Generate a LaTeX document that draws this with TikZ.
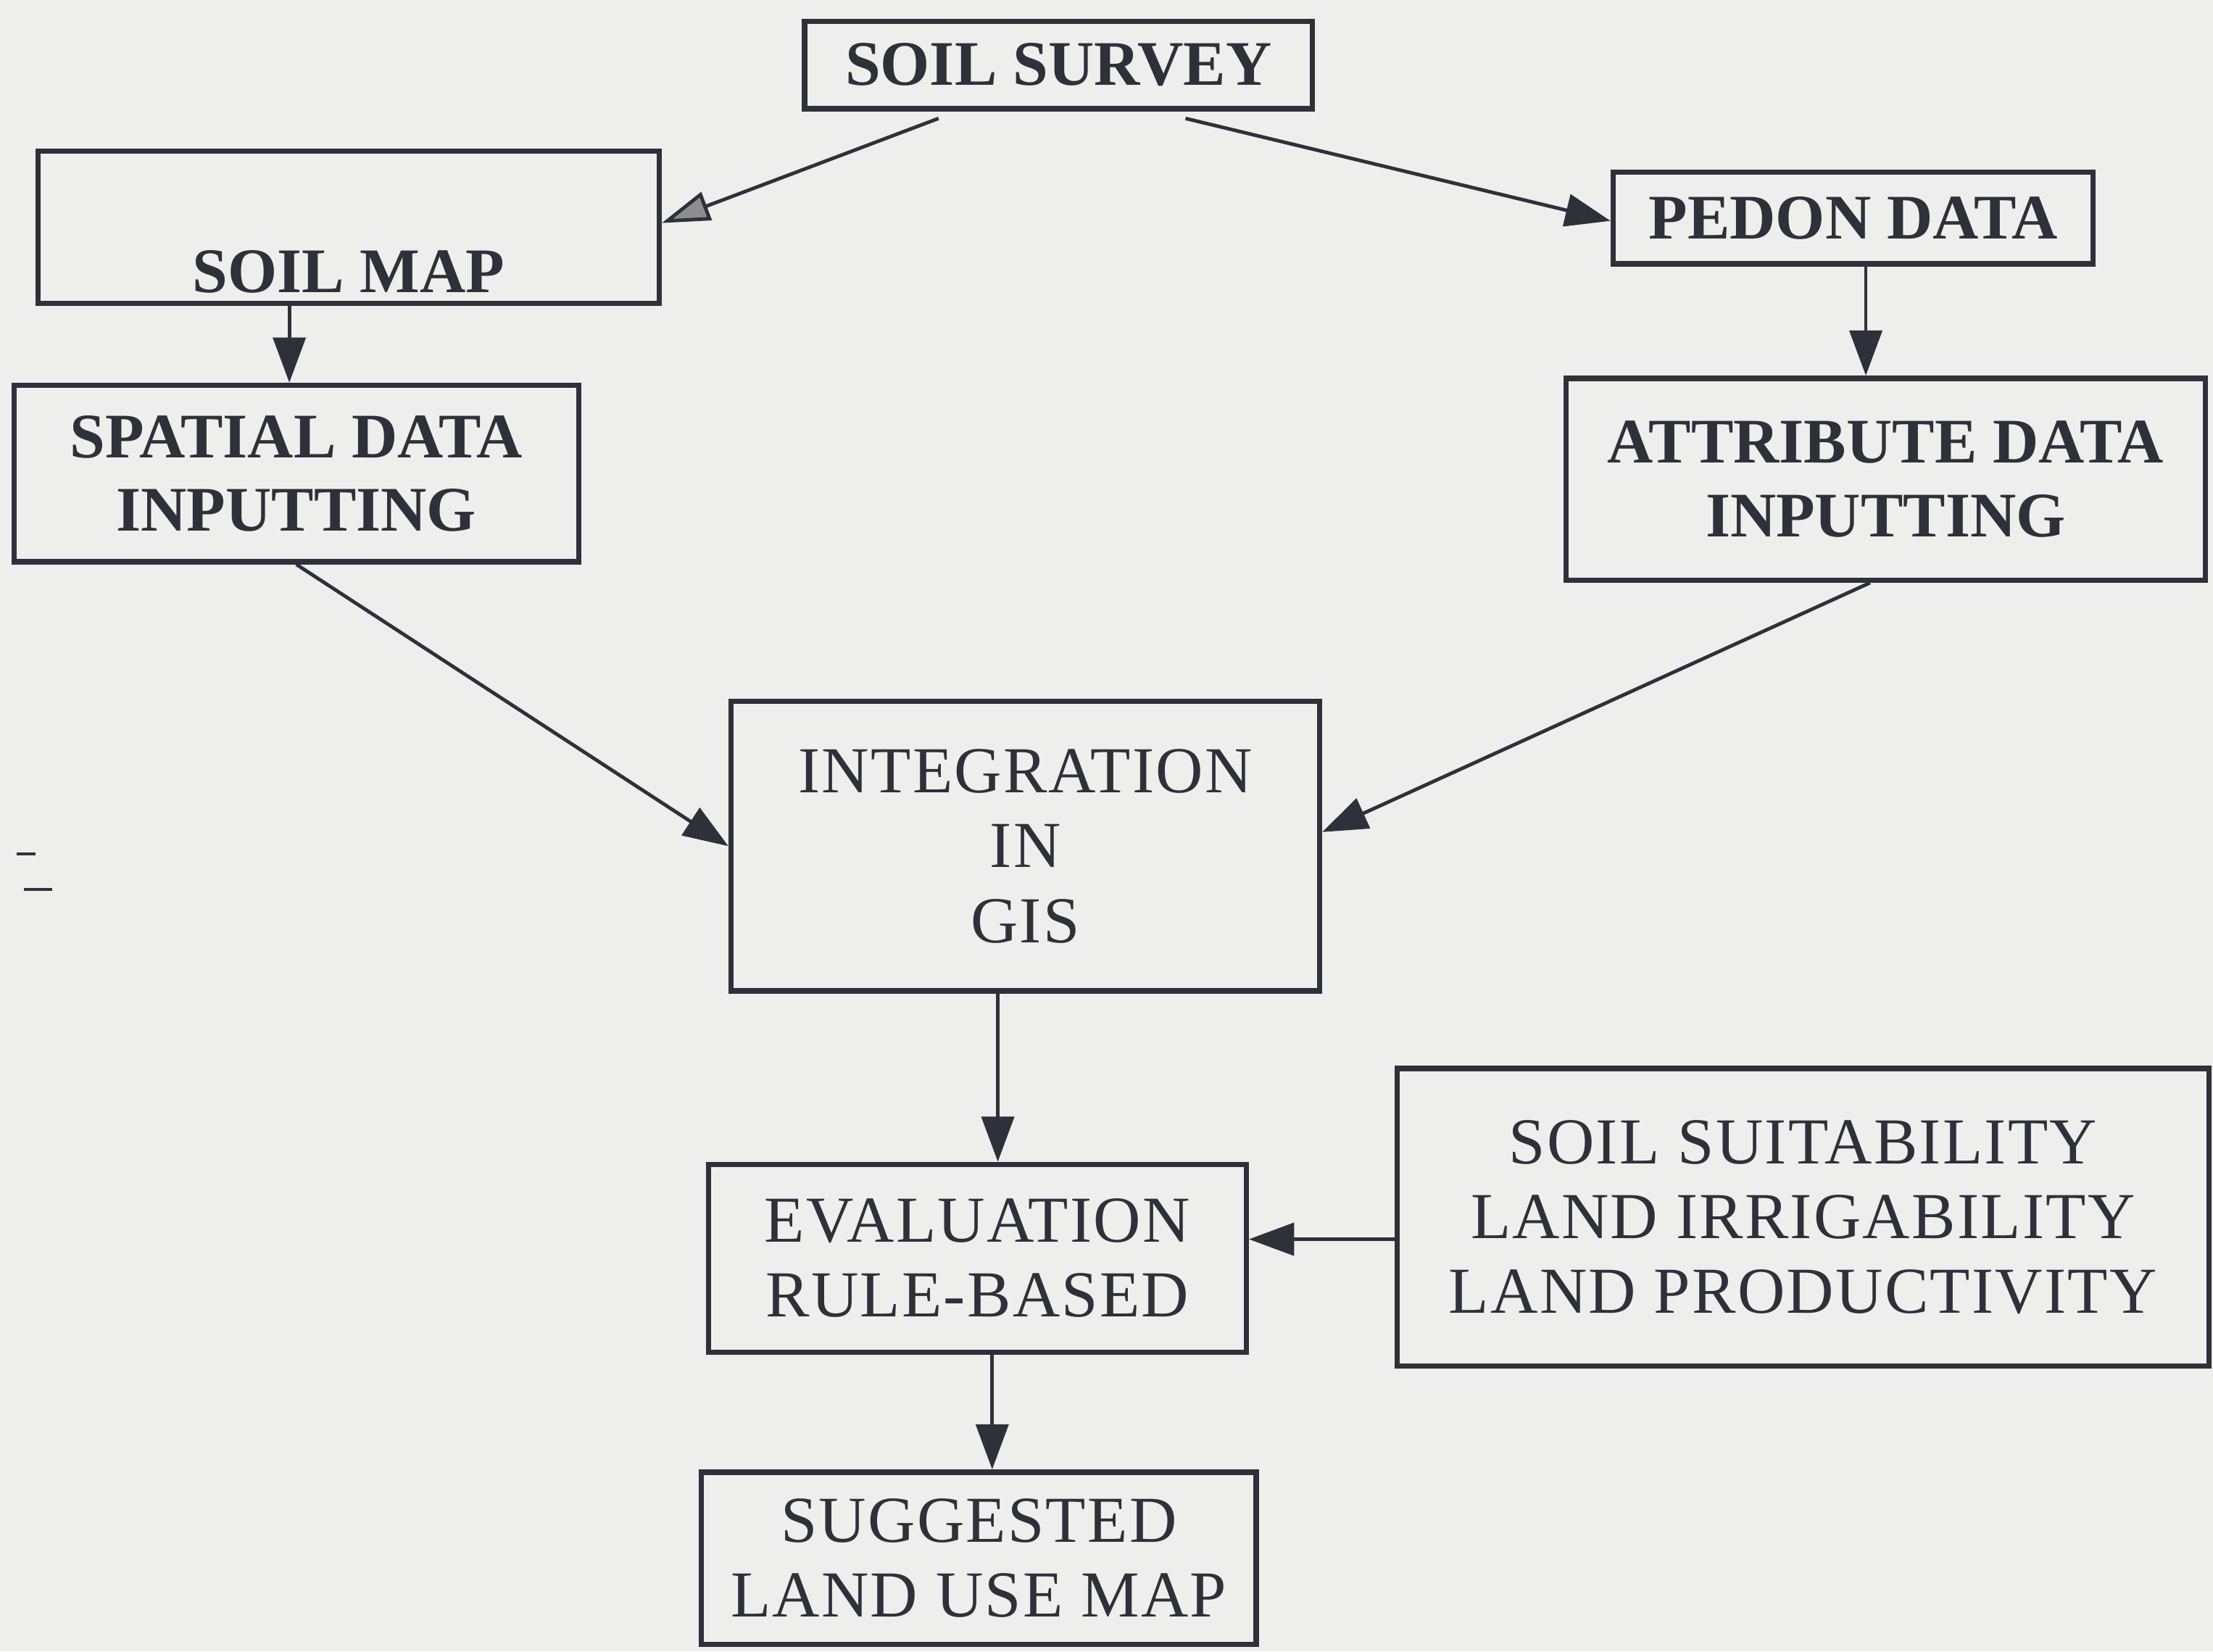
\documentclass[tikz,border=0pt]{standalone}
\usepackage{fontspec}
\setmainfont{Liberation Serif}
\newfontfamily\trackedserif[LetterSpace=2.5]{Liberation Serif}
\usetikzlibrary{arrows.meta,calc}

\definecolor{paper}{HTML}{EEEEEC}
\definecolor{ink}{HTML}{30303A}

\tikzset{
  box/.style={draw=ink, line width=3.8pt, rectangle, inner sep=0pt,
              align=center, text=ink},
  topfont/.style={font=\fontsize{45}{52}\selectfont\bfseries},
  lowfont/.style={font=\trackedserif\fontsize{46.5}{53}\selectfont},
  arr/.style={draw=ink, line width=2.5pt,
              -{Triangle[length=32pt,width=23pt]}},
  openarr/.style={draw=ink, line width=2.5pt,
              -{Triangle[open,length=34pt,width=21pt,fill=ink!55]}},
}

\begin{document}
\begin{tikzpicture}[x=1pt,y=-1pt]
  % page
  \fill[paper] (0,0) rectangle (1568,1170);
  \useasboundingbox (0,0) rectangle (1568,1170);

  % boxes
  \node[box, topfont, minimum width=360pt, minimum height=62pt]
    (survey) at (750,46) {SOIL SURVEY};
  \node[box, topfont, minimum width=440pt, text height=100pt, text depth=8pt]
    (soilmap) at (247,161) {SOIL MAP};
  \node[box, topfont, minimum width=340pt, minimum height=65pt]
    (pedon) at (1313,154.5) {PEDON DATA};
  \node[box, topfont, minimum width=400pt, minimum height=125pt]
    (spatial) at (210,335.5) {SPATIAL DATA\\INPUTTING};
  \node[box, topfont, minimum width=453pt, minimum height=143pt]
    (attrib) at (1336,339.5) {ATTRIBUTE DATA\\INPUTTING};
  \node[box, lowfont, minimum width=417pt, minimum height=205pt]
    (integ) at (726.5,599.5) {INTEGRATION\\IN\\GIS};
  \node[box, lowfont, minimum width=381pt, minimum height=133pt]
    (eval) at (692.5,891.5) {EVALUATION\\RULE-BASED};
  \node[box, lowfont, minimum width=575pt, minimum height=211pt]
    (suit) at (1277.5,862.5) {SOIL SUITABILITY\\LAND IRRIGABILITY\\LAND PRODUCTIVITY};
  \node[box, lowfont, minimum width=393pt, minimum height=122pt]
    (suggest) at (693.5,1104) {SUGGESTED\\LAND USE MAP};

  % connectors
  \draw[openarr] ([xshift=-85pt,yshift=-5pt]survey.south) -- ([yshift=3pt]soilmap.east);
  \draw[arr] ([xshift=90pt,yshift=-5pt]survey.south) -- ([yshift=-2pt]pedon.west);
  \draw[arr] ([xshift=-42pt]soilmap.south) coordinate (s1) -- (s1 |- spatial.north);
  \draw[arr] ([xshift=9pt]pedon.south) coordinate (s2) -- (s2 |- attrib.north);
  \draw[arr] (spatial.south) -- (integ.west);
  \draw[arr] ([xshift=-11pt]attrib.south) -- ([yshift=10pt]integ.east);
  \draw[arr] ([xshift=-19.5pt]integ.south) coordinate (s3) -- (s3 |- eval.north);
  \draw[arr] ([yshift=-15.5pt]suit.west) coordinate (s4) -- (s4 -| eval.east);
  \draw[arr] ([xshift=10.5pt]eval.south) coordinate (s5) -- (s5 |- suggest.north);

  % margin ticks
  \draw[ink, line width=2pt] (12,605) -- (25,605);
  \draw[ink, line width=2pt] (17,630) -- (37,630);
\end{tikzpicture}
\end{document}
